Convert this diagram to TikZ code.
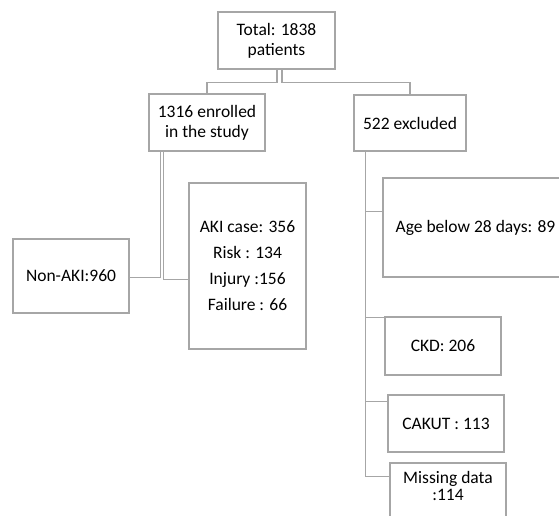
\documentclass[tikz,border=0pt]{standalone}
\usepackage{fontspec}
\setmainfont{Carlito}
\usetikzlibrary{calc}
\definecolor{boxgray}{HTML}{A6A6A6}
\begin{document}
\begin{tikzpicture}[x=1pt,y=-1pt,
  box/.style={draw=boxgray, line width=1.3pt, align=center, inner sep=0pt,
    font=\fontsize{17.5}{20}\selectfont, text=black},
  plain/.style={align=center, inner sep=0pt, font=\fontsize{17.5}{17}\selectfont, text=black},
  link/.style={draw=boxgray, line width=1.2pt}]
\useasboundingbox (0,0) rectangle (559,516);
\clip (0,0) rectangle (559,516);

\node[box, minimum width=117, minimum height=57] (total) at (276.5,40.5) {Total: 1838\\patients};
\node[box, minimum width=116, minimum height=57] (enrolled) at (207,122.5) {1316 enrolled\\in the study};
\node[box, minimum width=112, minimum height=56] (excluded) at (410,123) {522 excluded};
\node[box, minimum width=116, minimum height=74] (nonaki) at (71,276) {Non-AKI:960};
\node[box, minimum width=117, minimum height=166, font=\fontsize{17.5}{26}\selectfont] (aki) at (247.5,266)
  {AKI case: 356\\Risk : 134\\Injury :156\\Failure : 66};
\node[box, minimum width=185, minimum height=99] (age) at (475.5,227.5) {Age below 28 days: 89};
\node[box, minimum width=116, minimum height=58] (ckd) at (443,346) {CKD: 206};
\node[box, minimum width=116, minimum height=57] (cakut) at (446,423.5) {CAKUT : 113};
\node[box, minimum width=116, minimum height=70] (missing) at (448,498) {};
\node[plain, anchor=north] (missingtext) at ($(missing.north)+(0,9)$) {Missing data\\:114};

% top split
\draw[link] ($(total.south)+(0.5,0)$) |- ($(enrolled.north)+(0,-11)$) -- (enrolled.north);
\draw[link] ($(total.south)+(5.5,0)$) |- ($(excluded.north)+(0,-12)$) -- (excluded.north);
% enrolled branches
\draw[link] ($(enrolled.south west)+(12,0)$) |- ($(nonaki.north east)+(0,39)$);
\draw[link] ($(enrolled.south west)+(15,0)$) |- ($(aki.north west)+(0,97)$);
% excluded branches
\draw[link] ($(excluded.south west)+(12,0)$) |- ($(age.north west)+(0,34)$);
\draw[link] ($(excluded.south west)+(12,0)$) |- ($(ckd.north west)+(0,1)$);
\draw[link] ($(excluded.south west)+(12,0)$) |- ($(cakut.north west)+(0,7)$);
\draw[link] ($(excluded.south west)+(12,0)$) |- ($(missing.north west)+(0,14)$);
\end{tikzpicture}
\end{document}
